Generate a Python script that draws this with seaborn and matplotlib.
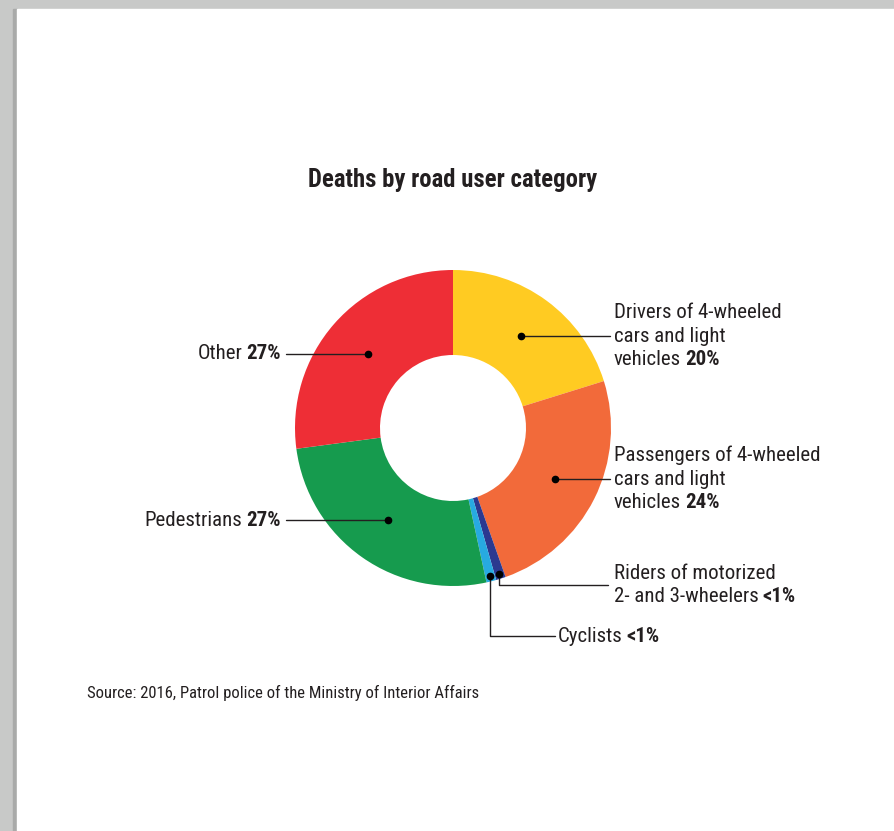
import numpy as np
import matplotlib
matplotlib.use("Agg")
import matplotlib.pyplot as plt
import seaborn as sns
from matplotlib.patches import Rectangle

# data (percent of deaths)
categories = [["Drivers of 4-wheeled", "cars and light", "vehicles"],
              ["Passengers of 4-wheeled", "cars and light", "vehicles"],
              ["Riders of motorized", "2- and 3-wheelers"], ["Cyclists"], ["Pedestrians"], ["Other"]]
shares = [20.2, 24.4, 1.0, 1.0, 26.3, 27.1]
share_labels = ["20%", "24%", "<1%", "<1%", "27%", "27%"]
colors = ["#FFCB22", "#F26A3A", "#2B3990", "#27AAE1", "#169B4E", "#EE2E36"]

sns.set_theme(style="white")
plt.rcParams["font.family"] = ["Roboto Condensed", "DejaVu Sans"]
plt.rcParams["font.stretch"] = "condensed"
TXT = "#231F20"

W, H = 895, 831
fig = plt.figure(figsize=(W / 100, H / 100), dpi=100)
fig.patch.set_facecolor("#C8C9C8")
# page
fig.patches.append(Rectangle((13 / W, 0), 4 / W, 1 - 9 / H, transform=fig.transFigure, color="#A9AAA9", zorder=-2))
fig.patches.append(Rectangle((17 / W, 0), 1, 1 - 9 / H, transform=fig.transFigure, color="white", zorder=-1))

ax = fig.add_axes([0, 0, 1, 1])
ax.set_zorder(2)
cx, cy, R, r_in = 453, H - 428, 158, 73
wedges, _ = ax.pie(shares, colors=colors, startangle=90, counterclock=False,
                   center=(cx, cy), radius=R, wedgeprops=dict(width=R - r_in, linewidth=0),
                   frame=True)
ax.set_xlim(0, W)
ax.set_ylim(0, H)
ax.set_aspect("equal")
ax.axis("off")
ax.patch.set_alpha(0)

fig.canvas.draw()
rend = fig.canvas.get_renderer()
FS = 15
LINE = 23.5
GAP = 4


def text_width(s, **kw):
    t = ax.text(0, 0, s, fontsize=FS, **kw)
    w = t.get_window_extent(rend).width
    t.remove()
    return w


def label(x, y_first, lines, pct, ha="left"):
    # one text per line, the last line ends with a bold percentage
    for k, s in enumerate(lines):
        y = y_first - k * LINE
        if k < len(lines) - 1:
            ax.text(x, y, s, fontsize=FS, color=TXT, ha="left", va="center")
        elif ha == "left":
            ax.text(x, y, s, fontsize=FS, color=TXT, ha="left", va="center")
            ax.text(x + text_width(s) + GAP, y, pct, fontsize=FS, color=TXT, fontweight="bold",
                    ha="left", va="center")
        else:
            ax.text(x, y, pct, fontsize=FS, color=TXT, fontweight="bold", ha="right", va="center")
            ax.text(x - text_width(pct, fontweight="bold") - GAP, y, s, fontsize=FS, color=TXT,
                    ha="right", va="center")


def dot_at(i, rad):
    ang = np.deg2rad((wedges[i].theta1 + wedges[i].theta2) / 2)
    return cx + rad * np.cos(ang), cy + rad * np.sin(ang)


lw = 1.0
# Drivers
px, py = dot_at(0, 114)
ax.plot([px, 610], [py, py], color=TXT, lw=lw)
ax.plot(px, py, "o", color="black", ms=4.5)
label(614, py + LINE, categories[0], share_labels[0])
# Passengers
px, py = dot_at(1, 114)
ax.plot([px, 610], [py, py], color=TXT, lw=lw)
ax.plot(px, py, "o", color="black", ms=4.5)
label(614, py + LINE, categories[1], share_labels[1])
# Riders
px, py = dot_at(2, 153)
ty = H - 585
ax.plot([px, px, 608], [py, ty, ty], color=TXT, lw=lw)
ax.plot(px, py, "o", color="black", ms=4.5)
label(614, ty + LINE / 2, categories[2], share_labels[2])
# Cyclists
px, py = dot_at(3, 153)
ty = H - 636
ax.plot([px, px, 555], [py, ty, ty], color=TXT, lw=lw)
ax.plot(px, py, "o", color="black", ms=4.5)
label(558, ty, categories[3], share_labels[3])
# Pedestrians
px, py = dot_at(4, 113)
ax.plot([286, px], [py, py], color=TXT, lw=lw)
ax.plot(px, py, "o", color="black", ms=4.5)
label(281, py, categories[4], share_labels[4], ha="right")
# Other
px, py = dot_at(5, 113)
ax.plot([286, px], [py, py], color=TXT, lw=lw)
ax.plot(px, py, "o", color="black", ms=4.5)
label(281, py, categories[5], share_labels[5], ha="right")

ax.text(453, H - 180, "Deaths by road user category", fontsize=17.8, fontweight="bold",
        color=TXT, ha="center", va="center")
ax.text(87, H - 693, "Source: 2016, Patrol police of the Ministry of Interior Affairs",
        fontsize=12, color=TXT, ha="left", va="center")

fig.savefig("out.png", dpi=100, facecolor=fig.get_facecolor())
